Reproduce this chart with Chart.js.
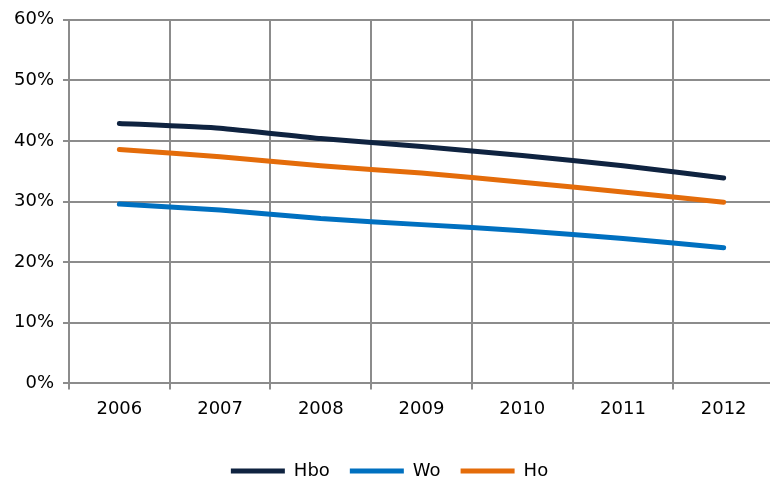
<!DOCTYPE html>
<html>
<head>
<meta charset="utf-8">
<script src="https://cdn.jsdelivr.net/npm/chart.js@4"></script>
<style>
  html, body { margin: 0; padding: 0; background: #fff; overflow: hidden; }
  #wrap { width: 774px; height: 478px; }
</style>
</head>
<body>
<div id="wrap"><canvas id="chart"></canvas></div>
<script>
// categories and series (percent)
const years = ['2006', '2007', '2008', '2009', '2010', '2011', '2012'];
const hbo = [42.9, 42.1, 40.4, 39.1, 37.6, 35.9, 33.9];
const wo = [29.6, 28.6, 27.2, 26.2, 25.2, 23.9, 22.4];
const ho = [38.6, 37.4, 35.9, 34.7, 33.2, 31.6, 29.9];
const yTicks = [0, 10, 20, 30, 40, 50, 60];

const gridGrey = '#8c8c8c';
const font = { family: 'DejaVu Sans', size: 18 };

function series(label, data, color) {
  return { label, data, borderColor: color, backgroundColor: color, borderWidth: 5, pointRadius: 0, pointStyle: 'line', tension: 0.15, borderCapStyle: 'round', fill: false };
}

new Chart(document.getElementById('chart'), {
  type: 'line',
  data: {
    labels: years,
    datasets: [
      series('Hbo', hbo, '#0f2340'),
      series('Wo', wo, '#0070c0'),
      series('Ho', ho, '#e46c0a'),
    ],
  },
  options: {
    responsive: true,
    maintainAspectRatio: false,
    animation: false,
    layout: { padding: { top: 16, right: 0, left: 5, bottom: -12 } },
    plugins: {
      tooltip: { enabled: false },
      legend: {
        position: 'bottom',
        labels: { color: '#000', font, usePointStyle: true, pointStyle: 'line', pointStyleWidth: 54, boxHeight: 18, padding: 20 },
      },
    },
    scales: {
      x: {
        offset: true,
        afterFit: axis => { axis.height += 13; },
        grid: { offset: true, color: gridGrey, lineWidth: 2, tickLength: 6 },
        border: { color: gridGrey, width: 2 },
        ticks: { color: '#000', font, padding: 9 },
      },
      y: {
        min: 0,
        max: 60,
        afterBuildTicks: axis => { axis.ticks = yTicks.map(v => ({ value: v })); },
        grid: { color: gridGrey, lineWidth: 2, tickLength: 6 },
        border: { color: gridGrey, width: 2 },
        ticks: { color: '#000', font, padding: 9, callback: v => v + '%' },
      },
    },
  },
});
</script>
</body>
</html>
